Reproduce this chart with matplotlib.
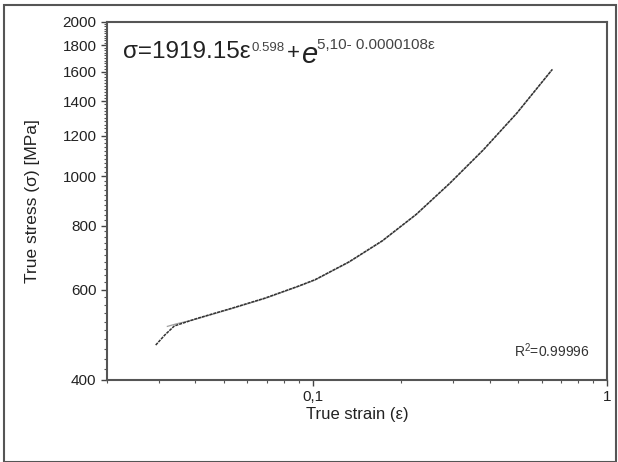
import matplotlib
matplotlib.use('Agg')
import matplotlib.pyplot as plt
from matplotlib.ticker import FixedLocator, MultipleLocator, LogLocator, NullFormatter, FuncFormatter
from matplotlib.patches import Rectangle

plt.rcParams['font.family'] = ['Liberation Sans', 'DejaVu Sans']
plt.rcParams['mathtext.fontset'] = 'custom'
plt.rcParams['mathtext.rm'] = 'Liberation Sans'
plt.rcParams['mathtext.it'] = 'Liberation Sans:italic'

# ---- data ----
exp_strain = [0.0293, 0.0315, 0.0339, 0.0407, 0.0530, 0.0689, 0.0895, 0.102, 0.1328,
              0.1726, 0.2248, 0.2922, 0.380, 0.494, 0.652]
exp_stress = [468, 490, 510, 528, 552, 578, 610, 628, 680,
              748, 842, 968, 1125, 1327, 1615]

fit_strain = [0.0321, 0.0345, 0.0376, 0.0407, 0.0530, 0.0689, 0.0895, 0.102, 0.1328,
              0.1726, 0.2248, 0.2922, 0.380, 0.494, 0.652]
fit_stress = [509, 515, 521, 527, 551, 577, 609, 627, 679,
              747, 841, 967, 1124, 1326, 1614]

y_ticks = [400, 600, 800, 1000, 1200, 1400, 1600, 1800, 2000]
x_ticks = [0.1, 1]
x_ticklabels = {0.1: '0,1', 1: '1'}

fig = plt.figure(figsize=(6.18, 4.62), dpi=100)
ax = fig.add_axes([0.173, 0.1775, 0.809, 0.775])

ax.plot(fit_strain, fit_stress, color='#a0a0a0', lw=0.9)
ax.plot(exp_strain, exp_stress, color='#333333', lw=1.1, ls=(0, (2, 0.6)))

ax.set_xscale('log')
ax.set_yscale('log')
ax.set_xlim(0.02, 1)
ax.set_ylim(400, 2000)

ax.xaxis.set_major_locator(FixedLocator(x_ticks))
ax.xaxis.set_major_formatter(FuncFormatter(lambda v, p: x_ticklabels.get(round(v, 3), '')))
ax.xaxis.set_minor_locator(LogLocator(base=10, subs=range(2, 10)))
ax.xaxis.set_minor_formatter(NullFormatter())

ax.yaxis.set_major_locator(FixedLocator(y_ticks))
ax.yaxis.set_major_formatter(FuncFormatter(lambda v, p: f'{int(round(v))}'))
ax.yaxis.set_minor_locator(MultipleLocator(20))
ax.yaxis.set_minor_formatter(NullFormatter())

ax.tick_params(which='major', direction='out', length=4, width=1, colors='#444444',
               labelsize=11, labelcolor='#222222')
ax.tick_params(which='minor', direction='out', length=2, width=0.8, colors='#555555')
for s in ax.spines.values():
    s.set_color('#555555')
    s.set_linewidth(1.5)

ax.set_xlabel('True strain (ε)', fontsize=12, color='#222222', labelpad=2)
ax.set_ylabel('True stress (σ) [MPa]', fontsize=12.5, color='#222222', labelpad=16)

# equation, built piece by piece so the exponents sit small and high
t1 = ax.text(0.032, 0.9, 'σ=1919.15ε', transform=ax.transAxes, fontsize=17.5,
             va='baseline', color='#222222')
t2 = ax.annotate('0.598', xy=(1, 1), xycoords=t1, xytext=(1, -1), textcoords='offset points',
                 fontsize=9.5, va='top', ha='left', color='#444444')
t3 = ax.annotate('+', xy=(1, 0), xycoords=(t2, t1), xytext=(1, 2.5), textcoords='offset points',
                 fontsize=16, va='baseline', ha='left', color='#222222')
t4 = ax.annotate('e', xy=(1, 0), xycoords=(t3, t1), xytext=(1, 0), textcoords='offset points',
                 fontsize=21, va='baseline', ha='left', style='italic', color='#222222')
t5 = ax.annotate('5,10- 0.0000108ε', xy=(1, 1), xycoords=t4, xytext=(0, 2), textcoords='offset points',
                 fontsize=11, va='top', ha='left', color='#444444')

ax.text(0.965, 0.065, 'R$^2$=0.99996', transform=ax.transAxes, fontsize=10,
        ha='right', va='baseline', color='#333333')

# outer frame around the whole figure
fig.patches.append(Rectangle((4 / 618, 0.001), 612 / 618, 1 - 5 / 462 - 0.001,
                             transform=fig.transFigure, fill=False,
                             edgecolor='#555555', lw=1.5))

fig.savefig('out.png', dpi=100)
